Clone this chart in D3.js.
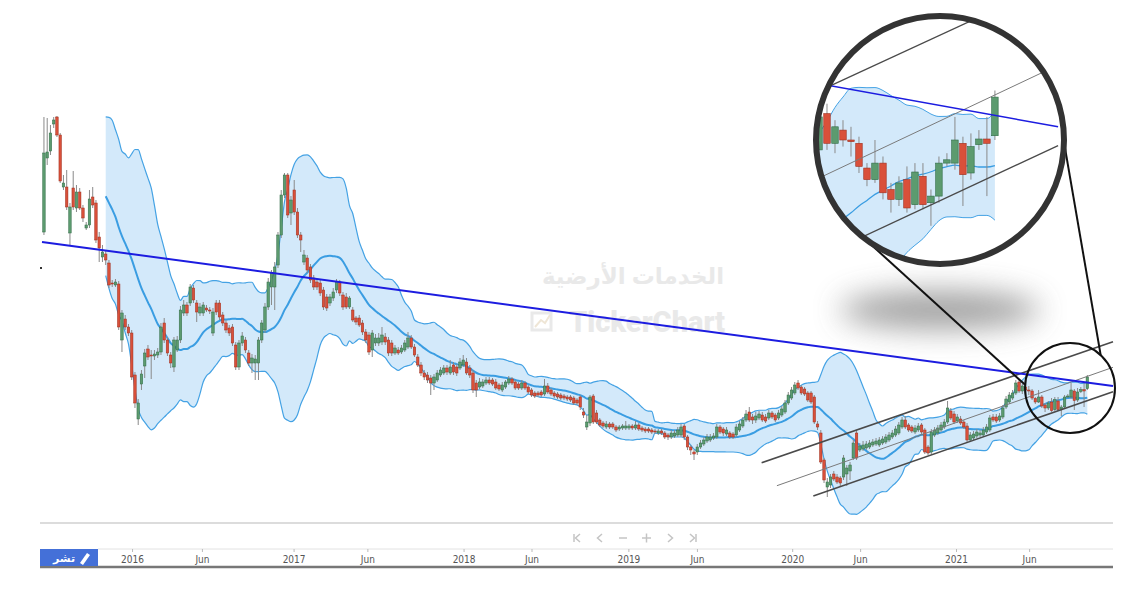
<!DOCTYPE html>
<html><head><meta charset="utf-8">
<script src="https://cdn.jsdelivr.net/npm/d3@7/dist/d3.min.js"></script>
<style>body{margin:0;background:#fff}svg{display:block}</style>
</head><body>
<svg id="c" width="1130" height="613"></svg>
<script>
// Weekly candles (index 0 = mid 2015), price units
const openP = [
36.8,44.2,44.9,47.6,48.3,46.5,41.3,41.3,36.7,41.2,
39.2,40.8,39.2,37.2,37.5,40.3,39.7,36.3,34.3,34.6,
33.7,31.7,31.5,31.6,26.0,28.1,27.3,26.7,22.5,18.1,
21.6,23.4,25.1,24.5,24.4,24.5,24.8,27.7,26.0,24.5,
23.3,25.0,26.0,28.7,29.5,29.7,31.2,29.7,28.7,28.7,
29.2,29.0,26.7,29.7,29.7,28.5,27.7,27.2,27.3,25.5,
23.3,25.7,26.0,24.7,23.7,23.7,23.7,26.0,27.0,29.3,
31.3,31.3,33.5,36.5,40.5,42.5,38.7,41.0,38.8,36.5,
33.8,34.2,33.3,32.2,31.8,31.7,31.0,30.3,29.7,30.2,
31.0,31.8,30.5,30.3,29.3,29.0,28.2,28.2,27.7,26.8,
26.5,25.0,25.7,25.7,25.8,26.3,26.0,25.7,24.7,25.0,
24.8,25.0,25.3,26.2,25.3,24.3,23.5,22.7,22.5,22.2,
21.7,22.0,22.5,22.7,23.2,22.7,23.5,23.3,23.2,23.5,
23.8,23.2,22.7,21.7,21.3,21.4,21.7,22.0,22.0,21.8,
21.5,21.0,21.3,21.7,22.1,21.8,21.6,21.2,21.7,21.3,
21.0,20.7,20.7,20.8,20.6,21.4,21.0,20.7,20.6,20.5,
20.4,20.3,20.3,20.2,20.0,20.3,18.8,17.3,17.7,20.4,
18.7,18.0,17.7,17.3,17.6,17.6,17.3,17.1,17.2,17.2,
17.2,17.4,17.2,17.5,17.2,17.1,17.1,17.0,16.9,16.7,
16.9,16.7,16.5,16.3,16.4,16.5,16.5,17.4,16.3,15.3,
14.8,14.8,15.3,15.6,15.9,16.0,16.2,16.3,17.3,17.1,
16.6,16.7,16.6,16.5,17.0,17.4,18.0,18.8,18.3,18.0,
18.2,18.5,18.3,18.2,18.7,18.5,18.2,18.5,18.8,19.7,
20.2,20.7,21.7,21.3,21.1,20.7,20.7,20.3,17.6,16.7,
14.0,11.3,11.5,12.6,12.3,12.2,12.3,12.6,12.9,14.2,
16.7,15.0,15.1,15.2,15.3,15.5,15.6,15.5,15.7,15.8,
16.0,16.3,16.5,16.7,17.3,18.0,17.5,17.3,16.8,17.0,
17.5,17.0,15.3,14.8,16.5,16.7,17.0,17.3,17.8,18.9,
18.6,17.9,18.1,17.8,17.4,16.0,16.2,16.4,16.5,16.5,
16.8,17.0,18.3,18.3,18.0,18.3,19.3,19.8,20.2,20.7,
21.8,20.9,21.3,21.0,20.9,20.15,19.8,20.3,19.5,19.2,
19.8,19.04,19.9,19.1,19.3,20.3,20.3,20.9,20.0,20.86,
21.03,21.13];
const closeP = [
44.7,44.8,46.7,48.0,46.5,41.9,41.7,39.3,39.3,39.3,
40.8,39.2,38.2,37.5,40.1,39.5,36.0,35.2,34.8,34.0,
31.5,31.6,31.8,27.3,28.7,27.3,26.7,22.3,19.7,19.7,
22.6,24.7,24.3,24.4,24.6,24.8,27.3,26.0,24.7,23.7,
26.0,26.0,29.0,29.5,28.7,31.3,30.0,28.8,29.3,29.5,
29.0,28.9,28.8,28.8,28.3,27.7,27.0,26.7,25.7,23.3,
25.7,26.4,25.0,23.7,24.2,24.1,26.0,27.7,29.3,31.8,
32.7,33.3,36.5,40.5,42.5,38.5,40.0,38.8,36.5,36.0,
34.5,33.0,32.0,31.3,31.3,30.7,29.3,29.2,30.3,30.8,
31.8,30.7,29.3,29.3,30.2,28.0,27.8,27.5,26.8,26.0,
24.8,26.7,26.2,26.2,26.5,25.8,24.7,24.7,25.2,24.7,
25.2,25.7,26.2,25.3,24.5,23.5,22.7,22.3,22.0,21.7,
22.3,22.7,23.0,23.2,22.8,23.3,22.8,22.7,23.8,24.0,
22.7,22.5,21.0,21.0,21.8,21.8,22.0,21.7,21.6,21.2,
21.1,21.5,21.8,22.1,21.7,21.2,21.2,21.7,21.2,20.8,
20.5,20.4,20.5,20.5,21.4,20.8,20.6,20.4,20.3,20.2,
20.2,20.1,20.0,19.7,19.7,19.3,18.5,17.8,20.3,17.8,
17.8,17.5,17.4,17.6,17.3,17.3,17.0,17.3,17.4,17.4,
17.4,17.2,17.5,17.1,17.0,16.9,16.9,16.8,16.8,16.9,
16.7,16.3,16.3,16.7,16.7,17.0,17.3,16.3,15.3,15.0,
14.6,15.3,15.7,16.0,16.3,16.3,16.4,17.3,16.8,16.7,
17.0,16.3,16.3,17.3,17.6,18.0,18.6,18.0,18.0,18.4,
18.6,18.0,17.9,18.7,18.3,18.0,18.7,19.1,19.7,20.5,
21.0,21.5,21.2,20.7,20.6,20.0,19.8,17.8,17.3,13.8,
12.0,11.8,12.3,12.1,11.8,11.7,14.2,13.2,13.5,15.7,
14.2,15.4,15.5,15.6,15.7,15.8,15.9,16.0,16.1,16.3,
16.5,16.7,17.1,17.5,18.0,17.3,17.0,16.9,17.2,17.4,
16.8,14.8,14.7,16.8,17.0,17.2,17.5,17.8,19.2,18.2,
17.8,18.3,17.7,17.3,16.0,16.5,16.6,16.8,16.7,17.0,
17.3,18.2,18.0,17.9,18.4,19.2,20.1,20.5,20.7,21.7,
20.9,21.4,21.0,20.95,20.2,19.8,20.3,19.4,19.2,19.7,
18.94,20.03,19.04,19.3,20.3,20.4,21.0,19.95,20.8,21.03,
20.9,22.3];
const highP = [
48.3,48.2,47.5,48.3,48.4,46.7,42.5,43.0,39.7,42.9,
41.5,41.2,39.5,37.8,41.0,41.3,40.0,36.8,35.5,35.0,
34.0,32.0,32.1,31.9,29.0,28.5,27.6,27.0,22.8,20.1,
23.0,25.1,25.5,25.0,25.0,25.2,27.7,28.2,26.3,24.8,
26.3,26.4,29.4,30.0,29.8,31.6,31.5,30.0,29.7,29.8,
29.5,29.3,29.2,30.0,30.0,28.8,28.0,27.5,27.6,25.8,
26.0,26.8,26.3,25.0,24.6,24.5,26.3,28.0,29.7,32.2,
33.0,33.8,36.8,41.0,42.7,42.7,40.4,42.0,39.2,36.8,
35.0,34.5,33.6,32.5,32.1,32.0,31.3,30.6,30.6,31.2,
32.1,32.0,30.8,30.7,30.4,29.3,28.4,28.5,28.0,27.1,
26.8,27.0,26.6,26.7,27.3,26.7,26.3,26.0,25.5,25.3,
25.5,26.0,26.8,26.5,25.6,24.6,23.8,23.0,22.8,22.5,
22.6,23.0,23.3,23.5,23.5,24.0,23.8,23.6,24.2,24.5,
24.2,23.5,23.0,22.0,22.2,22.1,22.3,22.3,22.2,22.1,
21.7,21.8,22.0,22.4,22.3,22.0,21.8,22.0,21.9,21.5,
21.2,20.9,20.9,21.0,22.1,21.7,21.2,20.9,20.8,20.7,
20.6,20.5,20.5,20.4,20.2,20.5,19.2,18.5,20.5,20.6,
19.0,18.2,17.9,17.9,17.8,17.8,17.5,17.5,17.6,17.9,
17.6,17.6,17.9,17.7,17.4,17.3,17.3,17.2,17.1,17.1,
17.1,16.9,16.7,17.0,17.0,17.3,17.6,17.6,16.5,15.5,
15.0,15.6,16.0,16.3,16.6,16.6,16.7,17.6,17.5,17.3,
17.3,16.9,16.8,17.6,17.9,18.3,19.0,19.3,18.6,18.8,
18.9,18.8,18.6,19.0,18.9,18.7,19.0,19.4,20.0,20.8,
21.3,21.8,22.0,21.5,21.3,20.9,20.9,20.5,17.9,17.0,
14.2,12.2,12.6,12.9,12.6,12.4,14.5,13.5,13.8,16.0,
17.0,15.7,15.9,15.9,16.0,16.1,16.2,16.3,16.4,16.6,
16.8,17.0,17.4,17.8,18.3,18.4,17.7,17.5,17.5,17.7,
17.7,17.2,15.5,17.1,17.3,17.5,17.8,18.1,19.9,19.2,
18.9,18.6,18.4,18.0,17.7,16.8,16.9,17.1,17.0,17.3,
17.6,18.5,18.6,18.6,18.7,19.5,20.4,20.8,21.0,22.0,
22.1,21.6,21.6,21.4,21.1,20.3,21.0,20.5,19.7,19.9,
20.2,20.3,20.3,19.5,20.5,20.6,21.7,21.1,21.2,21.3,
21.7,22.5];
const lowP = [
36.5,43.5,44.5,47.2,46.3,41.7,41.0,39.0,35.5,39.0,
38.8,39.0,37.8,37.0,37.2,39.2,35.7,33.8,33.8,33.5,
31.2,31.3,31.3,27.0,24.8,27.0,26.4,22.0,19.2,17.5,
21.0,22.2,24.0,22.1,24.0,24.2,24.5,25.7,24.4,23.2,
22.8,24.8,25.7,28.4,28.4,29.4,29.7,27.8,28.4,28.4,
28.8,28.6,26.4,28.5,28.0,27.4,26.7,26.4,25.4,23.0,
23.0,25.4,24.7,23.4,22.7,22.0,22.0,25.7,26.7,29.0,
29.5,29.0,33.2,36.2,40.2,38.2,37.5,38.5,36.2,34.8,
33.5,32.7,31.7,31.0,31.0,30.4,29.0,28.9,29.4,29.9,
30.7,30.4,29.0,29.1,29.1,27.8,27.5,27.3,26.5,25.7,
24.5,24.3,25.4,25.4,25.5,25.5,24.4,24.4,24.5,24.5,
24.6,24.8,25.1,25.1,24.3,23.3,22.4,22.0,21.7,20.5,
21.0,21.8,22.3,22.5,22.5,22.5,22.5,22.4,23.0,23.3,
22.5,22.2,20.7,20.3,21.1,21.2,21.5,21.5,21.4,21.0,
20.9,20.8,21.1,21.5,21.5,21.0,21.0,21.0,21.0,20.6,
20.3,20.2,20.3,20.3,20.4,20.6,20.4,20.2,20.1,20.0,
20.0,19.9,19.8,19.5,19.5,19.0,18.2,17.0,17.4,17.6,
17.6,17.3,17.2,17.1,17.1,17.1,16.8,16.9,17.0,17.0,
17.0,17.0,17.0,16.9,16.8,16.7,16.7,16.6,16.6,16.5,
16.5,16.1,16.0,16.1,16.2,16.3,16.3,16.0,15.0,14.5,
14.0,14.5,15.1,15.4,15.7,15.8,16.0,16.1,16.6,16.4,
16.4,16.1,16.1,16.3,16.8,17.2,17.8,17.8,17.6,17.7,
18.0,17.8,17.7,18.0,18.1,17.8,18.0,18.3,18.6,19.5,
20.0,20.5,21.0,20.5,20.4,19.8,19.6,17.6,17.0,13.6,
11.7,10.3,11.2,11.9,11.6,11.4,12.0,11.4,12.0,14.0,
14.0,14.8,14.9,15.0,15.1,15.3,15.4,15.3,15.5,15.6,
15.8,16.1,16.3,16.5,17.1,17.1,16.8,16.7,16.6,16.8,
16.6,14.6,14.5,14.6,16.3,16.5,16.8,17.1,17.6,18.0,
17.6,17.7,17.5,17.1,15.8,15.8,16.0,16.2,16.3,16.3,
16.6,16.8,17.8,17.7,17.8,18.1,19.1,19.6,20.0,20.5,
20.7,20.6,20.8,20.5,20.0,19.6,19.7,19.2,18.8,19.0,
18.8,18.9,18.9,18.4,19.1,20.2,20.1,19.0,19.8,20.7,
19.3,21.0];

// time axis: candle index of each label
const tickIndex  = [27.1, 48.6, 76.8, 99.5, 129.1, 150.0, 179.8, 200.9, 230.2, 251.1, 280.6, 303.1];
const tickLabels = ["2016","Jun","2017","Jun","2018","Jun","2019","Jun","2020","Jun","2021","Jun"];

// drawn trend lines: [index, price]
const trendLine    = [[-0.6, 35.8], [328.9, 21.4]];
const channelUpper = [[220.8, 13.73], [328.9, 25.83]];
const channelMid   = [[225.5, 11.43], [328.9, 23.27]];
const channelLower = [[236.7, 10.4], [328.9, 20.83]];

const bbPeriod = 20, bbMult = 2;

const N = closeP.length;
const candles = d3.range(N).map(i => ({i, o: openP[i], h: highP[i], l: lowP[i], c: closeP[i]}));
const bb = [];
for (let i = bbPeriod - 1; i < N; i++) {
  const w = closeP.slice(i - bbPeriod + 1, i + 1);
  const m = d3.mean(w);
  const sd = Math.sqrt(d3.mean(w, v => (v - m) * (v - m)));
  bb.push({i, m, u: m + bbMult * sd, l: m - bbMult * sd});
}

const svg = d3.select('#c');
const x = d3.scaleLinear().domain([-0.6, 328.9]).range([42, 1113]);
const y = d3.scaleLinear().domain([11, 50]).range([490, 100]);

const GREEN = '#5c9b6f', GREEN_D = '#2f6b45', RED = '#d9503a', RED_D = '#9e2f1e';

// watermark
const wm = svg.append('g').attr('fill', '#e9e9e9').attr('font-weight', 'bold')
  .attr('font-family', "'Noto Sans','DejaVu Sans',sans-serif");
wm.append('text').attr('x', 633).attr('y', 284).attr('text-anchor', 'middle')
  .attr('font-size', 23).attr('direction', 'rtl').text('الخدمات الأرضية');
wm.append('text').attr('x', 647).attr('y', 332).attr('text-anchor', 'middle')
  .attr('font-size', 29).attr('font-weight', 900).attr('font-family', "Roboto,'Liberation Sans',Arial,sans-serif").text('TickerChart');
wm.append('rect').attr('x', 532).attr('y', 313).attr('width', 19).attr('height', 17)
  .attr('fill', 'none').attr('stroke', '#e9e9e9').attr('stroke-width', 3);
wm.append('path').attr('d', 'M535,327 L541,320 L545,323 L550,315').attr('fill', 'none')
  .attr('stroke', '#efe6d6').attr('stroke-width', 2);

function drawScene(g, xs, ys, st) {
  const area = d3.area().x(d => xs(d.i)).y0(d => ys(d.l)).y1(d => ys(d.u)).curve(d3.curveMonotoneX);
  g.append('path').datum(bb).attr('d', area).attr('fill', '#d3e9fa');
  const ln = k => d3.line().x(d => xs(d.i)).y(d => ys(d[k])).curve(d3.curveMonotoneX);
  g.append('path').datum(bb).attr('d', ln('u')).attr('fill', 'none').attr('stroke', '#44a2e4').attr('stroke-width', st.band);
  g.append('path').datum(bb).attr('d', ln('l')).attr('fill', 'none').attr('stroke', '#44a2e4').attr('stroke-width', st.band);
  g.append('path').datum(bb).attr('d', ln('m')).attr('fill', 'none').attr('stroke', '#3a9de2').attr('stroke-width', st.mid);

  const cg = g.append('g');
  cg.selectAll('line.w').data(candles).join('line').attr('class', 'w')
    .attr('x1', d => xs(d.i)).attr('x2', d => xs(d.i))
    .attr('y1', d => ys(d.h)).attr('y2', d => ys(d.l))
    .attr('stroke', '#8a8a8a').attr('stroke-width', st.wick);
  cg.selectAll('rect.b').data(candles).join('rect').attr('class', 'b')
    .attr('x', d => xs(d.i) - st.body / 2).attr('width', st.body)
    .attr('y', d => ys(Math.max(d.o, d.c)))
    .attr('height', d => Math.max(1, Math.abs(ys(d.o) - ys(d.c))))
    .attr('fill', d => d.c >= d.o ? GREEN : RED)
    .attr('stroke', d => d.c >= d.o ? GREEN_D : RED_D).attr('stroke-width', st.bodyStroke);

  const seg = d3.line().x(d => xs(d[0])).y(d => ys(d[1]));
  g.append('path').attr('d', seg(channelUpper)).attr('stroke', '#4a4a4a').attr('stroke-width', st.ch).attr('fill', 'none');
  g.append('path').attr('d', seg(channelMid)).attr('stroke', '#7a7a7a').attr('stroke-width', st.chMid).attr('fill', 'none');
  g.append('path').attr('d', seg(channelLower)).attr('stroke', '#4a4a4a').attr('stroke-width', st.ch).attr('fill', 'none');
  g.append('path').attr('d', seg(trendLine)).attr('stroke', '#1c1ce0').attr('stroke-width', st.trend).attr('fill', 'none');
}

const main = svg.append('g');
drawScene(main, x, y, {band: 1.2, mid: 2, wick: 1, body: 2.5, bodyStroke: 0.5, ch: 1.6, chMid: 1, trend: 2});
svg.append('rect').attr('x', 40).attr('y', 267).attr('width', 2).attr('height', 2).attr('fill', '#333');

// magnifier
const bigC = {x: 940, y: 140, r: 124};
const smallC = {x: 1070, y: 388, r: 45};
const mapC = {x: 1065, y: 390, sx: 2.46, sy: 3.3};

const defs = svg.append('defs');
const f = defs.append('filter').attr('id', 'blur').attr('x', '-50%').attr('y', '-100%').attr('width', '200%').attr('height', '300%');
f.append('feGaussianBlur').attr('stdDeviation', 15);
defs.append('clipPath').attr('id', 'clipBig').append('circle')
  .attr('cx', bigC.x).attr('cy', bigC.y).attr('r', bigC.r - 2);

svg.append('ellipse').attr('cx', 940).attr('cy', 310).attr('rx', 100).attr('ry', 19)
  .attr('fill', '#888').attr('opacity', 0.8).attr('filter', 'url(#blur)');

svg.append('circle').attr('cx', smallC.x).attr('cy', smallC.y).attr('r', smallC.r)
  .attr('fill', 'none').attr('stroke', '#111').attr('stroke-width', 2);

const deg = Math.PI / 180;
const pt = (c, a) => [c.x + c.r * Math.cos(a * deg), c.y + c.r * Math.sin(a * deg)];
[[136, 184], [1, -47]].forEach(([a1, a2]) => {
  const p1 = pt(bigC, a1), p2 = pt(smallC, a2);
  svg.append('line').attr('x1', p1[0]).attr('y1', p1[1]).attr('x2', p2[0]).attr('y2', p2[1])
    .attr('stroke', '#111').attr('stroke-width', 2);
});

svg.append('circle').attr('cx', bigC.x).attr('cy', bigC.y).attr('r', bigC.r).attr('fill', '#fff');
const xi = x.copy().range(x.range().map(v => bigC.x + (v - mapC.x) * mapC.sx));
const yi = y.copy().range(y.range().map(v => bigC.y + (v - mapC.y) * mapC.sy));
const inset = svg.append('g').attr('clip-path', 'url(#clipBig)');
drawScene(inset, xi, yi, {band: 1, mid: 1.3, wick: 1, body: 6.5, bodyStroke: 0.6, ch: 1.3, chMid: 1, trend: 1.5});
svg.append('circle').attr('cx', bigC.x).attr('cy', bigC.y).attr('r', bigC.r)
  .attr('fill', 'none').attr('stroke', '#333').attr('stroke-width', 6);

// bottom area
svg.append('line').attr('x1', 40).attr('x2', 1113).attr('y1', 523).attr('y2', 523).attr('stroke', '#dcdcdc').attr('stroke-width', 2);
const nav = svg.append('g').attr('stroke', '#c4c4c4').attr('fill', '#c4c4c4').attr('stroke-width', 1.5);
nav.append('line').attr('x1', 574).attr('x2', 574).attr('y1', 534).attr('y2', 542);
nav.append('path').attr('d', 'M580,534 L575.5,538 L580,542').attr('fill', 'none');
nav.append('path').attr('d', 'M602,534 L597.5,538 L602,542').attr('fill', 'none');
nav.append('line').attr('x1', 619).attr('x2', 627).attr('y1', 538).attr('y2', 538);
nav.append('line').attr('x1', 642).attr('x2', 651).attr('y1', 538).attr('y2', 538);
nav.append('line').attr('x1', 646.5).attr('x2', 646.5).attr('y1', 533.5).attr('y2', 542.5);
nav.append('path').attr('d', 'M668,534 L672.5,538 L668,542').attr('fill', 'none');
nav.append('path').attr('d', 'M690,534 L694.5,538 L690,542').attr('fill', 'none');
nav.append('line').attr('x1', 696).attr('x2', 696).attr('y1', 534).attr('y2', 542);

svg.append('line').attr('x1', 98).attr('x2', 1113).attr('y1', 549).attr('y2', 549).attr('stroke', '#e2e2e2').attr('stroke-width', 1);
const ax = svg.append('g').attr('transform', 'translate(0,549)')
  .call(d3.axisBottom(x).tickValues(tickIndex).tickFormat((d, k) => tickLabels[k]).tickSize(3).tickPadding(4));
ax.select('.domain').remove();
ax.selectAll('.tick line').attr('stroke', '#bbb');
ax.selectAll('.tick text').attr('fill', '#555').attr('font-size', 10)
  .attr('font-family', "'DejaVu Sans Condensed','Liberation Sans Narrow','Liberation Sans',sans-serif");
svg.append('line').attr('x1', 40).attr('x2', 1113).attr('y1', 567).attr('y2', 567).attr('stroke', '#777').attr('stroke-width', 2.5);

// logo box
svg.append('rect').attr('x', 40).attr('y', 549).attr('width', 58).attr('height', 17).attr('fill', '#4470d8');
svg.append('text').attr('x', 64).attr('y', 562).attr('text-anchor', 'middle').attr('fill', '#fff')
  .attr('font-size', 11).attr('font-weight', 'bold').attr('font-family', "'Noto Sans','DejaVu Sans',sans-serif").text('تشر');
svg.append('path').attr('d', 'M80,563 L87,553 L90,555 L83,565 Z').attr('fill', '#fff');
</script>
</body></html>
